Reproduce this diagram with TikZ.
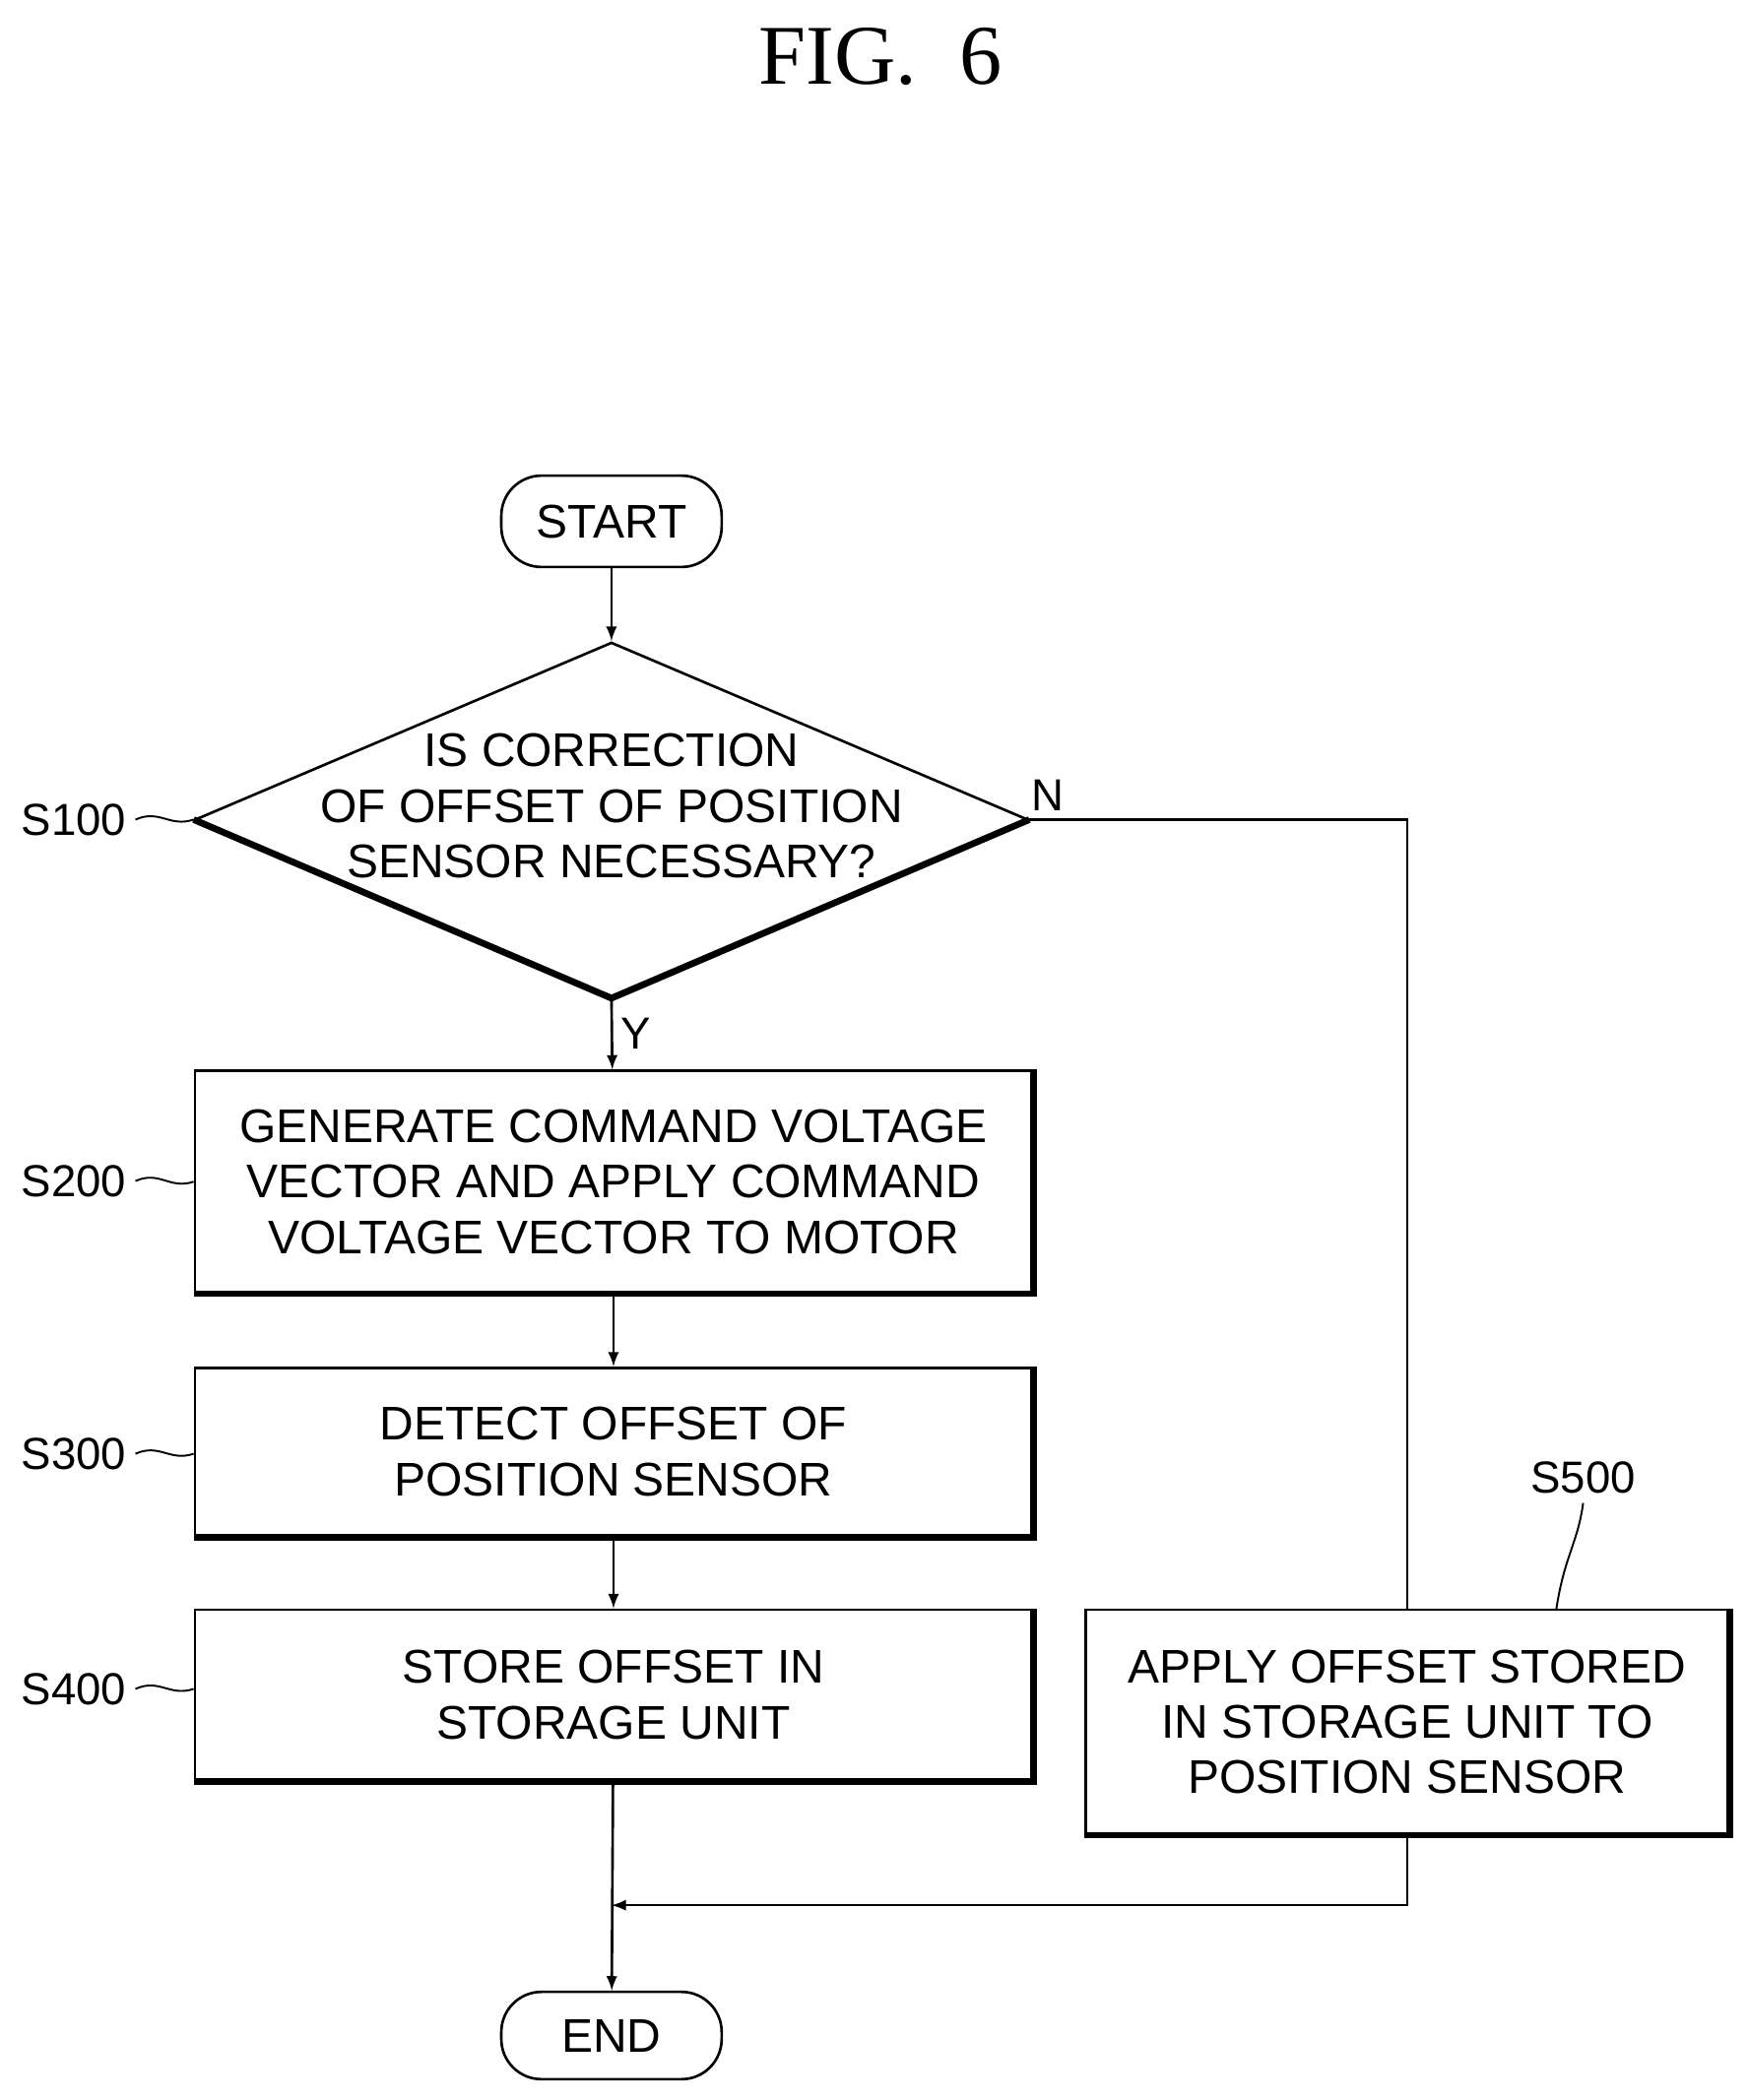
\documentclass[tikz,border=0pt]{standalone}
\usepackage{fontspec}
\setmainfont{Liberation Sans}
\newfontfamily\figfont{Liberation Serif}
\usetikzlibrary{positioning,shapes.geometric}

\begin{document}
\begin{tikzpicture}
	[x=0.02cm,y=-0.02cm,line width=1.1pt,>=latex]
	\tikzset{box/.style={rectangle,draw,align=center,font=\fontsize{20}{23.5}\selectfont}}
	\tikzstyle{term}=[rectangle,rounded corners=17pt,draw,minimum width=164\pgflinewidth,font=\fontsize{20}{23.5}\selectfont]
	\tikzstyle{heavy}=[line width=2.8pt]
	\tikzstyle{tag}=[font=\fontsize{19}{22}\selectfont]
	\useasboundingbox (0,0) rectangle (1300,1563);
	\node [font=\figfont\fontsize{36}{40}\selectfont] (fig) at (655,42) {FIG.\ \ 6};
	% terminals
	\node [term,minimum width=3.28cm,minimum height=1.36cm] (start) at (455,388) {START};
	\node [term,minimum width=3.28cm,minimum height=1.30cm] (end) at (455,1515) {END};
	% decision
	\node [diamond,draw,minimum width=12.4cm,minimum height=5.28cm,inner sep=0pt] (d) at (455,610) {};
	\node [align=center,font=\fontsize{20}{23.5}\selectfont] (dtext) at (455,600) {IS CORRECTION\\OF OFFSET OF POSITION\\SENSOR NECESSARY?};
	\draw [heavy] (d.west) -- (d.south) -- (d.east);
	% process boxes
	\node [box,minimum width=12.46cm,minimum height=3.3cm] (s200) at (456.5,879.5) {GENERATE COMMAND VOLTAGE\\VECTOR AND APPLY COMMAND\\VOLTAGE VECTOR TO MOTOR};
	\node [box,minimum width=12.46cm,minimum height=2.5cm] (s300) at (456.5,1080.5) {DETECT OFFSET OF\\POSITION SENSOR};
	\node [box,minimum width=12.46cm,minimum height=2.54cm] (s400) at (456.5,1261.5) {STORE OFFSET IN\\STORAGE UNIT};
	\node [box,minimum width=9.56cm,minimum height=3.34cm] (s500) at (1047,1281.5) {APPLY OFFSET STORED\\IN STORAGE UNIT TO\\POSITION SENSOR};
	\foreach \n in {s200,s300,s400,s500}
		\draw [heavy] (\n.south west) -- (\n.south east) -- (\n.north east);
	% connectors
	\draw [->] (start) -- (d);
	\draw [->] (d.south) -- node [right,tag] {Y} (s200);
	\draw [->] (s200) -- (s300);
	\draw [->] (s300) -- (s400);
	\draw [->] (s400) -- (end);
	\draw (d.east) -- node [pos=0.05,above,tag] {N} (d.east -| s500.north) -- (s500.north);
	\coordinate (join) at (455,1418);
	\draw [->] (s500.south) |- (join);
	% step tags
	\node [tag] (t100) at (55,610) {S100};
	\node [tag] (t200) at (55,879) {S200};
	\node [tag] (t300) at (55,1082) {S300};
	\node [tag] (t400) at (55,1257) {S400};
	\node [tag] (t500) at (1178,1100) {S500};
	\draw [line width=0.8pt] (t100.east) .. controls +(18,-8) and +(-18,6) .. (d.west);
	\draw [line width=0.8pt] (t200.east) .. controls +(18,-8) and +(-18,6) .. (s200.west);
	\draw [line width=0.8pt] (t300.east) .. controls +(18,-8) and +(-18,6) .. (s300.west |- t300.east);
	\draw [line width=0.8pt] (t400.east) .. controls +(18,-8) and +(-18,6) .. (s400.west |- t400.east);
	\coordinate (s500tag) at (1158,1198);
	\draw [line width=0.8pt] (t500.south) .. controls +(-4,30) and +(6,-40) .. (s500tag);
\end{tikzpicture}
\end{document}
